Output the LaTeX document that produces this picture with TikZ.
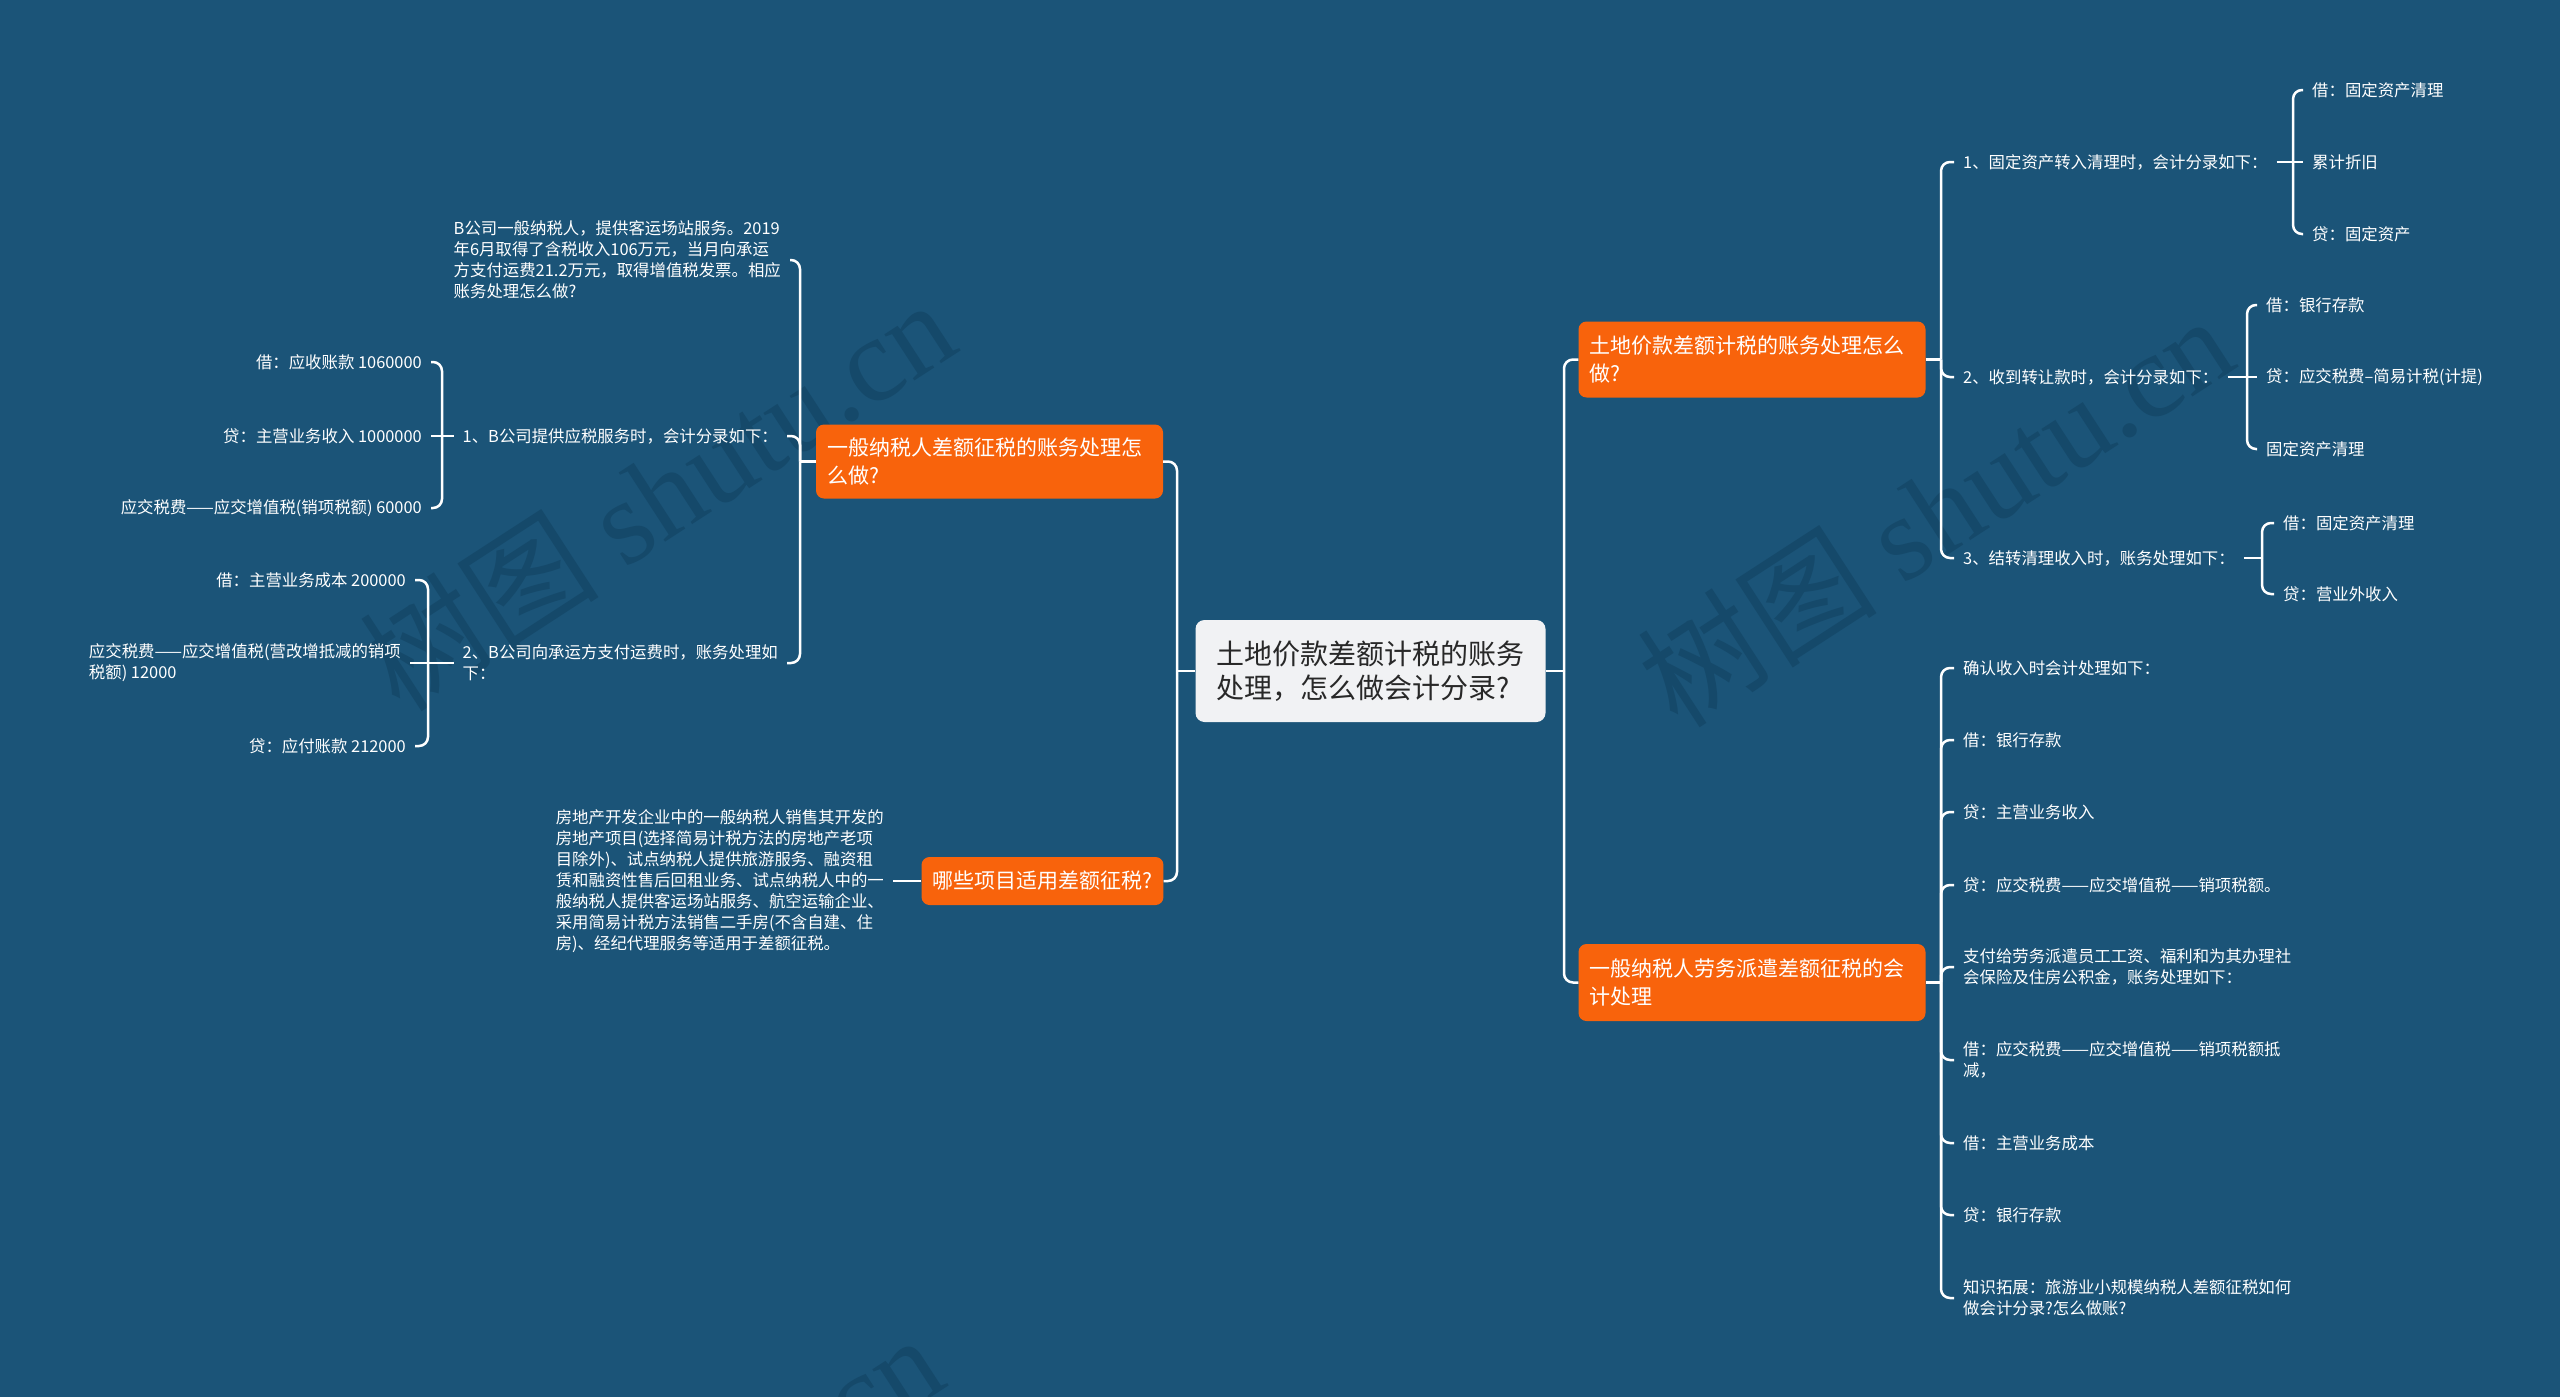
\documentclass[tikz,border=0pt]{standalone}
\usepackage{fontspec}
\setmainfont{Noto Sans CJK SC}
\newfontfamily\wmfont{Liberation Serif}
\definecolor{bg}{RGB}{27,84,120}
\definecolor{orng}{RGB}{248,99,12}
\definecolor{rootfill}{RGB}{241,242,244}
\definecolor{roottext}{RGB}{40,40,40}
\definecolor{wm}{RGB}{21,73,106}
\begin{document}
\begin{tikzpicture}[x=1pt,y=-1pt,
  conn/.style={draw=white, line width=2.5pt, rounded corners=9pt},
  leaf/.style={text=white, font=\fontsize{16.4}{21}\selectfont, inner xsep=9pt, inner ysep=3pt, align=left},
  topic/.style={fill=orng, text=white, rounded corners=8pt, font=\fontsize{21}{28}\selectfont, inner xsep=11pt, inner ysep=6pt, align=left},
  rootnode/.style={fill=rootfill, text=roottext, rounded corners=9pt, font=\fontsize{28}{34}\selectfont, inner xsep=21pt, inner ysep=10pt, align=left, minimum height=102pt},
  wmark/.style={text=wm, font=\fontsize{120}{120}\selectfont, rotate=33, inner sep=0pt}]
\useasboundingbox (0,0) rectangle (2560,1397);
\fill[bg] (0,0) rectangle (2560,1397);
\begin{scope}
\clip (0,0) rectangle (2560,1397);
\node[wmark] (w1) at (657,494) {树图 {\wmfont shutu.cn}};
\node[wmark] (w2) at (1935,510) {树图 {\wmfont shutu.cn}};
\node[wmark] (w3) at (645,1529) {树图 {\wmfont shutu.cn}};
\end{scope}

% root and main topics
\node[rootnode] (root) at (1370.5,671) {土地价款差额计税的账务\\处理，怎么做会计分录?};
\node[topic, text width=325pt, minimum height=74pt] (L1) at (989.5,461.5) {一般纳税人差额征税的账务处理怎\\么做?};
\node[topic, minimum height=48pt] (L2) at (1042.5,881) {哪些项目适用差额征税?};
\node[topic, text width=325pt, minimum height=76pt] (RA) at (1752,359.5) {土地价款差额计税的账务处理怎么\\做?};
\node[topic, text width=325pt, minimum height=77pt] (RB) at (1752,982.5) {一般纳税人劳务派遣差额征税的会\\计处理};

% left branch 1
\node[leaf, anchor=east] (Q) at (790,260) {B公司一般纳税人，提供客运场站服务。2019\\年6月取得了含税收入106万元，当月向承运\\方支付运费21.2万元，取得增值税发票。相应\\账务处理怎么做?};
\node[leaf, anchor=east] (I1) at (787,436) {1、B公司提供应税服务时，会计分录如下：};
\node[leaf, anchor=east] (I2) at (787,663) {2、B公司向承运方支付运费时，账务处理如\\下：};
\node[leaf, anchor=east] (C1) at (431,362) {借：应收账款 1060000};
\node[leaf, anchor=east] (C2) at (431,436) {贷：主营业务收入 1000000};
\node[leaf, anchor=east] (C3) at (431,508) {应交税费——应交增值税(销项税额) 60000};
\node[leaf, anchor=east] (D1) at (415,580) {借：主营业务成本 200000};
\node[leaf, anchor=east] (D2) at (410,663) {应交税费——应交增值税(营改增抵减的销项\\税额) 12000};
\node[leaf, anchor=east] (D3) at (415,746) {贷：应付账款 212000};

% left branch 2
\node[leaf, anchor=east] (P) at (893,881) {房地产开发企业中的一般纳税人销售其开发的\\房地产项目(选择简易计税方法的房地产老项\\目除外)、试点纳税人提供旅游服务、融资租\\赁和融资性售后回租业务、试点纳税人中的一\\般纳税人提供客运场站服务、航空运输企业、\\采用简易计税方法销售二手房(不含自建、住\\房)、经纪代理服务等适用于差额征税。};

% right branch A
\node[leaf, anchor=west] (A1) at (1954,162) {1、固定资产转入清理时，会计分录如下：};
\node[leaf, anchor=west] (A2) at (1954,377) {2、收到转让款时，会计分录如下：};
\node[leaf, anchor=west] (A3) at (1954,558) {3、结转清理收入时，账务处理如下：};
\node[leaf, anchor=west] (a11) at (2303,90) {借：固定资产清理};
\node[leaf, anchor=west] (a12) at (2303,162) {累计折旧};
\node[leaf, anchor=west] (a13) at (2303,234) {贷：固定资产};
\node[leaf, anchor=west] (a21) at (2257,305) {借：银行存款};
\node[leaf, anchor=west] (a22) at (2257,377) {贷：应交税费–简易计税(计提)};
\node[leaf, anchor=west] (a23) at (2257,449) {固定资产清理};
\node[leaf, anchor=west] (a31) at (2274,523) {借：固定资产清理};
\node[leaf, anchor=west] (a32) at (2274,594) {贷：营业外收入};

% right branch B
\node[leaf, anchor=west] (B1) at (1954,668) {确认收入时会计处理如下：};
\node[leaf, anchor=west] (B2) at (1954,740) {借：银行存款};
\node[leaf, anchor=west] (B3) at (1954,812) {贷：主营业务收入};
\node[leaf, anchor=west] (B4) at (1954,885) {贷：应交税费——应交增值税——销项税额。};
\node[leaf, anchor=west] (B5) at (1954,967) {支付给劳务派遣员工工资、福利和为其办理社\\会保险及住房公积金，账务处理如下：};
\node[leaf, anchor=west] (B6) at (1954,1060) {借：应交税费——应交增值税——销项税额抵\\减，};
\node[leaf, anchor=west] (B7) at (1954,1143) {借：主营业务成本};
\node[leaf, anchor=west] (B8) at (1954,1215) {贷：银行存款};
\node[leaf, anchor=west] (B9) at (1954,1298) {知识拓展：旅游业小规模纳税人差额征税如何\\做会计分录?怎么做账?};

% connectors
\coordinate (tL) at (1177,671);
\draw[conn] (root.west) -- (tL);
\draw[conn] (tL) |- (L1.east);
\draw[conn] (tL) |- (L2.east);

\coordinate (tL1) at (800,461.5);
\draw[conn] (L1.west) -- (tL1);
\foreach \c in {Q,I1,I2} \draw[conn] (tL1) |- (\c.east);

\coordinate (tI1) at (442,436);
\draw[conn] (I1.west) -- (tI1);
\draw[conn] (tI1) |- (C1.east);
\draw[conn] (tI1) -- (C2.east);
\draw[conn] (tI1) |- (C3.east);

\coordinate (tI2) at (428,663);
\draw[conn] (I2.west) -- (tI2);
\draw[conn] (tI2) |- (D1.east);
\draw[conn] (tI2) -- (D2.east);
\draw[conn] (tI2) |- (D3.east);

\draw[conn] (L2.west) -- (P.east);

\coordinate (tR) at (1564,671);
\draw[conn] (root.east) -- (tR);
\draw[conn] (tR) |- (RA.west);
\draw[conn] (tR) |- (RB.west);

\coordinate (tRA) at (1941,359.5);
\draw[conn] (RA.east) -- (tRA);
\foreach \c in {A1,A2,A3} \draw[conn] (tRA) |- (\c.west);

\coordinate (tA1) at (2293,162);
\draw[conn] (A1.east) -- (tA1);
\draw[conn] (tA1) |- (a11.west);
\draw[conn] (tA1) -- (a12.west);
\draw[conn] (tA1) |- (a13.west);

\coordinate (tA2) at (2247,377);
\draw[conn] (A2.east) -- (tA2);
\draw[conn] (tA2) |- (a21.west);
\draw[conn] (tA2) -- (a22.west);
\draw[conn] (tA2) |- (a23.west);

\coordinate (tA3) at (2262,558);
\draw[conn] (A3.east) -- (tA3);
\draw[conn] (tA3) |- (a31.west);
\draw[conn] (tA3) |- (a32.west);

\coordinate (tRB) at (1941,982.5);
\draw[conn] (RB.east) -- (tRB);
\foreach \c in {B1,B2,B3,B4,B5,B6,B7,B8,B9} \draw[conn] (tRB) |- (\c.west);
\end{tikzpicture}
\end{document}
